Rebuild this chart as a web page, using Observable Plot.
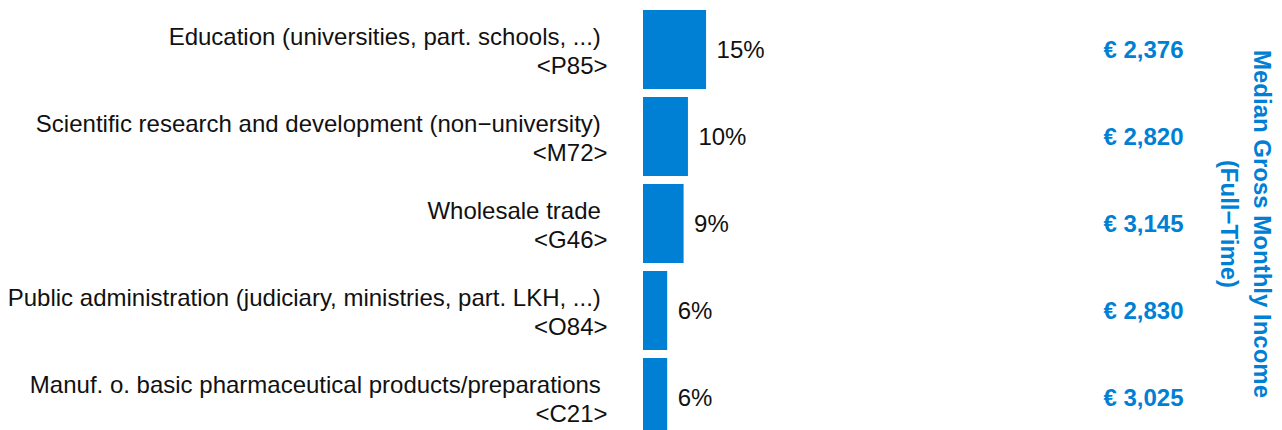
<!DOCTYPE html>
<html>
<head>
<meta charset="utf-8">
<script src="https://cdn.jsdelivr.net/npm/d3@7"></script>
<script src="https://cdn.jsdelivr.net/npm/@observablehq/plot@0.6"></script>
<style>
  html, body { margin: 0; padding: 0; background: #fff; overflow: hidden; }
  #chart svg { display: block; }
</style>
</head>
<body>
<div id="chart"></div>
<script>
const categories = [
  "Education (universities, part. schools, ...)",
  "Scientific research and development (non−university)",
  "Wholesale trade",
  "Public administration (judiciary, ministries, part. LKH, ...)",
  "Manuf. o. basic pharmaceutical products/preparations"
];
const codes = ["P85", "M72", "G46", "O84", "C21"];
const shares = [14.6, 10.4, 9.4, 5.6, 5.6];
const incomes = [2376, 2820, 3145, 2830, 3025];
const incomeTitle = "Median Gross Monthly Income\n(Full−Time)";

const data = codes.map((c, i) => ({
  code: c,
  label: categories[i] + "\u00a0\n<" + c + ">",
  share: shares[i],
  income: incomes[i]
}));

const blue = "#0080d4";
const fmt = d3.format(",");

const chart = Plot.plot({
  width: 1282,
  height: 445,
  marginLeft: 643,
  marginRight: 207,
  marginTop: 2,
  marginBottom: 0,
  style: { fontFamily: "'Liberation Sans', Arial, sans-serif", background: "#fff" },
  x: { domain: [0, 100], axis: null },
  y: { domain: codes, padding: 0.09, axis: null },
  marks: [
    Plot.barX(data, { x: "share", y: "code", fill: blue }),
    Plot.text(data, {
      y: "code", text: "label", frameAnchor: "left", textAnchor: "end",
      dx: -36, dy: 0, lineHeight: 1.2, fontSize: 24, fill: "#111"
    }),
    Plot.text(data, {
      x: "share", y: "code", text: d => Math.round(d.share) + "%",
      textAnchor: "start", dx: 10, dy: 0, fontSize: 24, fill: "#111"
    }),
    Plot.text(data, {
      y: "code", text: d => "€ " + fmt(d.income), frameAnchor: "right",
      textAnchor: "end", dx: 108, fontSize: 24, fontWeight: "bold", fill: blue
    }),
    Plot.text([incomeTitle], {
      text: d => d, frameAnchor: "right", textAnchor: "middle", lineAnchor: "middle",
      dx: 172.5, rotate: 90, fontSize: 24, fontWeight: "bold", fill: blue, lineHeight: 1.375
    })
  ]
});
document.getElementById("chart").appendChild(chart);
</script>
</body>
</html>
